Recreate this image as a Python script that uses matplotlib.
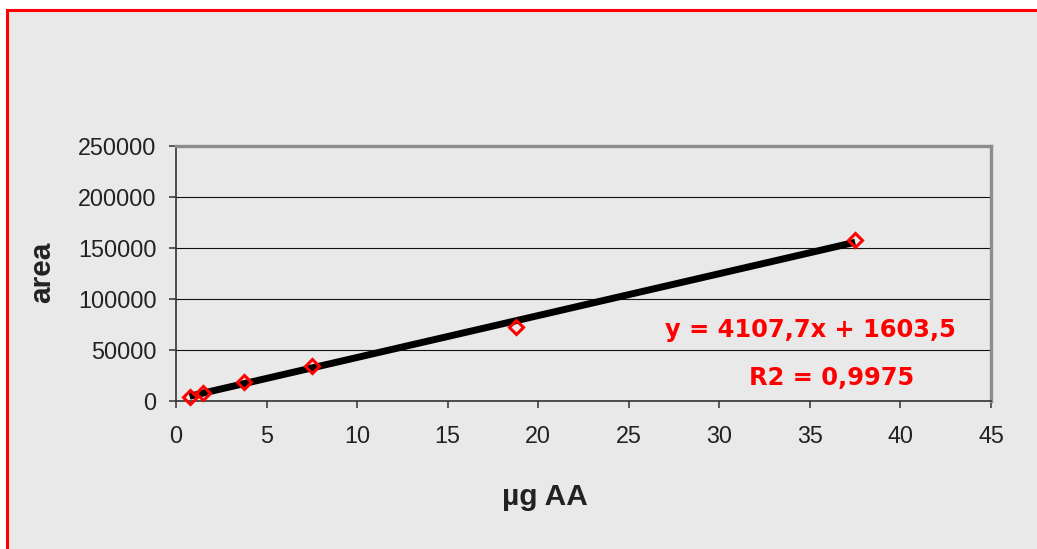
import numpy as np
import matplotlib.pyplot as plt
from matplotlib.patches import Rectangle

# calibration data
conc = [0.75, 1.5, 3.75, 7.5, 18.75, 37.5]          # µg AA
area = [4200, 7500, 18900, 34300, 72800, 157800]

slope = 4107.7
intercept = 1603.5
eq_label = 'y = 4107,7x + 1603,5'
r2_label = 'R2 = 0,9975'

xticks = [0, 5, 10, 15, 20, 25, 30, 35, 40, 45]
yticks = [0, 50000, 100000, 150000, 200000, 250000]

W, H = 1037, 549
bg = '#e9e9e9'

plt.rcParams['font.family'] = ['Liberation Sans', 'DejaVu Sans']

fig = plt.figure(figsize=(W / 100, H / 100), dpi=100, facecolor='white')

# chart area with red frame (clipped on the right and bottom like the original)
frame = Rectangle((7 / W, -0.05), 1.1, 1 - 10 / H + 0.05, transform=fig.transFigure,
                  facecolor=bg, edgecolor='red', linewidth=2.2, zorder=-5)
fig.patches.append(frame)

ax = fig.add_axes([176 / W, 1 - 401 / H, (991 - 176) / W, 255 / H])
ax.set_facecolor(bg)

ax.set_xlim(0, 45)
ax.set_ylim(0, 250000)
ax.set_xticks(xticks)
ax.set_yticks(yticks)

ax.yaxis.grid(True, color='#111111', linewidth=0.8)
ax.set_axisbelow(True)

for side in ('top', 'right'):
    ax.spines[side].set_color('#8c8c8c')
    ax.spines[side].set_linewidth(2.4)
for side in ('left', 'bottom'):
    ax.spines[side].set_color('#333333')
    ax.spines[side].set_linewidth(1.2)

ax.tick_params(direction='out', length=5, width=1.1, color='#333333',
               labelsize=16.8, labelcolor='#222222')
ax.tick_params(axis='y', pad=9)
ax.tick_params(axis='x', pad=12)

# trendline over the data range
xfit = np.array([min(conc), max(conc)])
ax.plot(xfit, slope * xfit + intercept, color='black', linewidth=5,
        solid_capstyle='butt', zorder=3)

ax.plot(conc, area, linestyle='none', marker='D', markersize=7.3,
        markerfacecolor='none', markeredgecolor='red', markeredgewidth=2.2,
        zorder=4, clip_on=False)

# axis titles
fig.text(545 / W, 1 - 497 / H, 'µg AA', ha='center', va='center',
         fontsize=21.5, fontweight='bold', color='#222222')
fig.text(42 / W, 1 - 272 / H, 'area', ha='center', va='center', rotation=90,
         fontsize=21.5, fontweight='bold', color='#222222')

# trendline labels
fig.text(810 / W, 1 - 330 / H, eq_label, ha='center', va='center',
         fontsize=17.4, fontweight='bold', family='DejaVu Sans', color='red')
fig.text(832 / W, 1 - 378 / H, r2_label, ha='center', va='center',
         fontsize=17.4, fontweight='bold', family='DejaVu Sans', color='red')

fig.savefig('out.png', dpi=100, facecolor=fig.get_facecolor())
